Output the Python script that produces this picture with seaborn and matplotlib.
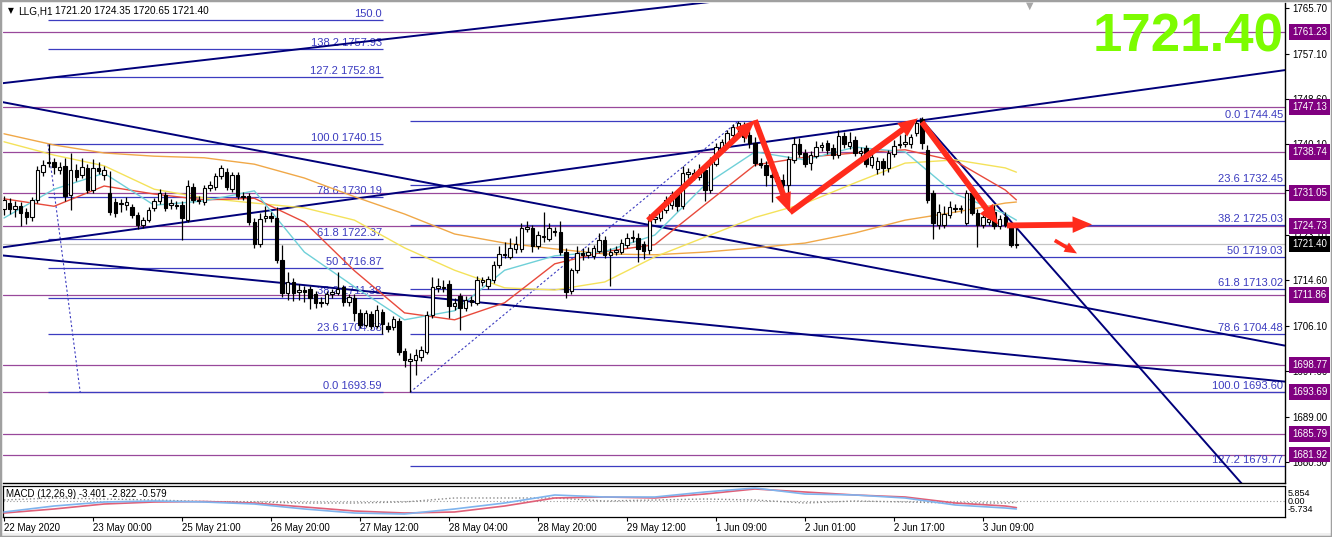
import numpy as np
import matplotlib
matplotlib.use("Agg")
import matplotlib.pyplot as plt
import seaborn as sns
from matplotlib.transforms import blended_transform_factory
from matplotlib.patches import Rectangle

# ---------------- data ----------------
opens = [1727.9, 1729.2, 1727.9, 1728.6, 1727.4, 1726.4, 1729.7, 1734.9, 1736.6, 1736.9,
         1735.3, 1736.0, 1730.6, 1735.3, 1734.4, 1735.7, 1731.6, 1735.7, 1734.3, 1731.0,
         1729.3, 1728.9, 1728.7, 1728.3, 1726.9, 1725.0, 1726.0, 1728.2, 1729.5, 1730.6,
         1728.7, 1728.7, 1728.7, 1726.0, 1732.1, 1729.7, 1729.3, 1732.0, 1732.1, 1734.2,
         1735.0, 1731.8, 1734.4, 1730.4, 1730.4, 1725.5, 1721.5, 1726.3, 1726.6, 1726.3,
         1718.4, 1712.3, 1714.2, 1712.5, 1712.7, 1712.9, 1712.0, 1710.6, 1710.4, 1712.0,
         1712.3, 1713.3, 1710.5, 1711.3, 1708.5, 1706.3, 1708.2, 1706.1, 1708.7, 1706.0,
         1705.8, 1706.9, 1701.3, 1699.5, 1699.7, 1700.2, 1701.2, 1708.1, 1713.2, 1713.4,
         1714.0, 1709.8, 1711.6, 1709.5, 1711.0, 1710.4, 1714.3, 1713.6, 1714.6, 1717.5,
         1719.6, 1719.0, 1720.4, 1720.5, 1724.3, 1724.4, 1721.0, 1722.8, 1722.4, 1723.8,
         1723.7, 1719.9, 1712.6, 1716.5, 1719.8, 1719.4, 1719.2, 1720.2, 1722.2, 1719.4,
         1720.0, 1720.0, 1721.2, 1722.5, 1722.6, 1721.4, 1720.3, 1726.1, 1726.3, 1727.8,
         1728.7, 1730.9, 1728.5, 1734.6, 1734.8, 1734.0, 1735.3, 1731.5, 1736.5, 1739.2,
         1740.0, 1741.8, 1743.1, 1743.8, 1741.8, 1740.3, 1736.6, 1736.3, 1734.4, 1734.0,
         1733.4, 1732.5, 1737.2, 1740.2, 1738.5, 1736.7, 1738.0, 1739.6, 1740.3, 1739.5,
         1738.1, 1741.7, 1739.8, 1741.0, 1738.5, 1739.5, 1736.2, 1735.5, 1737.0, 1735.6,
         1738.3, 1740.0, 1740.2, 1740.1, 1742.2, 1744.8, 1739.1, 1731.0, 1724.9, 1725.0,
         1726.9, 1728.2, 1728.0, 1725.4, 1731.0, 1727.3, 1725.0, 1725.5, 1727.5, 1724.8,
         1726.5, 1725.0, 1721.20]
highs = [1730.5, 1730.0, 1729.5, 1729.3, 1728.2, 1730.2, 1736.0, 1737.2, 1740.15, 1737.5,
         1736.8, 1737.5, 1738.5, 1736.5, 1737.5, 1736.5, 1737.3, 1736.8, 1736.0, 1735.2,
         1730.0, 1729.8, 1730.2, 1729.0, 1727.5, 1726.5, 1728.4, 1730.0, 1731.8, 1731.2,
         1729.9, 1729.5, 1729.4, 1733.4, 1732.8, 1730.5, 1732.5, 1733.3, 1734.8, 1736.2,
         1735.6, 1735.0, 1735.0, 1731.2, 1731.0, 1726.3, 1727.3, 1728.5, 1727.4, 1728.4,
         1721.2, 1716.2, 1715.0, 1714.0, 1713.6, 1713.5, 1712.6, 1711.4, 1712.6, 1713.0,
         1716.2, 1713.8, 1712.1, 1712.0, 1709.2, 1709.0, 1708.8, 1710.0, 1709.3, 1706.8,
         1708.0, 1707.6, 1702.0, 1701.0, 1701.8, 1702.3, 1708.8, 1715.3, 1715.0, 1714.6,
         1714.6, 1711.2, 1712.3, 1711.6, 1711.7, 1715.4, 1715.3, 1715.5, 1718.2, 1721.0,
         1721.8, 1722.5, 1723.0, 1725.3, 1725.8, 1725.0, 1723.9, 1727.4, 1725.4, 1724.6,
         1725.8, 1720.6, 1717.0, 1721.0, 1720.6, 1720.8, 1721.3, 1723.5, 1722.9, 1720.6,
         1721.0, 1722.3, 1723.4, 1724.0, 1723.4, 1722.0, 1727.0, 1727.2, 1728.6, 1730.4,
         1731.4, 1731.5, 1736.0, 1735.7, 1735.5, 1736.5, 1736.0, 1737.8, 1740.3, 1741.2,
         1742.8, 1744.0, 1744.45, 1744.3, 1742.6, 1741.5, 1737.5, 1737.0, 1735.2, 1735.0,
         1734.5, 1737.9, 1741.5, 1741.3, 1739.2, 1738.8, 1740.8, 1740.6, 1740.9, 1740.1,
         1742.8, 1742.4, 1742.5, 1741.6, 1739.6, 1740.0, 1738.6, 1737.7, 1737.6, 1739.0,
         1741.0, 1741.8, 1742.0, 1742.0, 1744.6, 1745.2, 1740.0, 1731.6, 1729.0, 1728.5,
         1729.5, 1729.0, 1728.8, 1731.6, 1731.8, 1727.9, 1727.2, 1726.9, 1728.8, 1726.8,
         1727.5, 1725.6, 1724.35]
lows = [1726.8, 1727.0, 1726.5, 1724.8, 1725.2, 1725.8, 1729.2, 1734.2, 1735.8, 1734.5,
        1734.6, 1729.5, 1727.8, 1733.2, 1733.8, 1731.0, 1731.0, 1734.6, 1733.5, 1726.8,
        1726.5, 1727.5, 1727.8, 1726.3, 1724.2, 1724.4, 1725.5, 1727.6, 1729.0, 1727.6,
        1728.0, 1727.9, 1722.2, 1725.5, 1729.2, 1728.9, 1728.8, 1731.4, 1731.6, 1733.6,
        1731.5, 1731.2, 1729.8, 1729.6, 1724.9, 1720.6, 1720.9, 1725.6, 1725.5, 1717.9,
        1711.5, 1711.0, 1710.8, 1711.0, 1710.5, 1709.2, 1709.4, 1709.6, 1709.9, 1711.2,
        1711.8, 1709.8, 1709.8, 1707.0, 1705.6, 1705.8, 1705.4, 1705.7, 1704.6, 1704.9,
        1705.2, 1700.6, 1698.4, 1693.59, 1696.8, 1699.4, 1700.8, 1707.6, 1712.5, 1712.4,
        1707.5, 1709.0, 1705.3, 1708.9, 1709.8, 1709.9, 1713.6, 1713.0, 1714.1, 1717.0,
        1718.8, 1718.6, 1719.8, 1720.0, 1723.6, 1720.0, 1720.5, 1721.8, 1721.9, 1722.9,
        1719.3, 1711.3, 1712.0, 1716.0, 1718.5, 1718.8, 1718.6, 1719.8, 1718.8, 1713.6,
        1719.3, 1719.5, 1720.7, 1721.8, 1718.0, 1718.6, 1719.6, 1725.3, 1725.7, 1727.2,
        1728.0, 1727.6, 1728.0, 1733.8, 1733.4, 1733.5, 1729.5, 1731.0, 1736.0, 1738.6,
        1739.4, 1741.2, 1742.5, 1740.5, 1739.5, 1736.0, 1735.6, 1732.3, 1729.3, 1732.6,
        1731.5, 1727.8, 1736.6, 1737.8, 1735.9, 1735.4, 1737.5, 1738.9, 1738.4, 1737.4,
        1737.6, 1739.5, 1739.2, 1737.9, 1737.8, 1735.8, 1735.6, 1734.6, 1734.3, 1735.0,
        1737.7, 1739.4, 1739.6, 1739.5, 1741.6, 1739.3, 1729.2, 1722.4, 1724.3, 1724.5,
        1726.3, 1727.4, 1727.3, 1725.0, 1726.8, 1720.8, 1724.5, 1725.0, 1724.3, 1724.3,
        1724.6, 1720.9, 1720.65]
closes = [1729.6, 1727.9, 1728.6, 1727.3, 1726.4, 1729.7, 1735.3, 1736.3, 1736.9, 1735.9,
          1735.9, 1730.5, 1735.3, 1734.0, 1735.9, 1731.6, 1735.7, 1735.2, 1735.3, 1727.4,
          1727.2, 1729.1, 1729.3, 1726.9, 1725.0, 1725.9, 1727.8, 1729.5, 1731.0, 1728.2,
          1729.2, 1728.5, 1726.3, 1732.3, 1729.7, 1729.5, 1732.0, 1732.5, 1734.2, 1735.6,
          1732.1, 1734.4, 1730.4, 1730.2, 1725.5, 1721.4, 1726.2, 1726.6, 1726.3, 1718.4,
          1712.3, 1714.2, 1712.3, 1712.8, 1712.5, 1711.3, 1710.3, 1710.4, 1712.0, 1712.4,
          1712.9, 1710.5, 1711.5, 1708.5, 1706.3, 1708.4, 1706.0, 1709.0, 1706.4, 1705.5,
          1707.3, 1701.2, 1699.6, 1699.8, 1700.6, 1701.5, 1708.1, 1713.4, 1713.5, 1713.1,
          1709.8, 1710.3, 1709.5, 1711.0, 1710.5, 1714.7, 1714.7, 1714.9, 1717.5, 1719.6,
          1719.4, 1720.7, 1721.4, 1724.4, 1724.6, 1721.0, 1723.2, 1723.0, 1724.4, 1723.6,
          1719.9, 1712.5, 1716.5, 1719.8, 1719.3, 1719.9, 1720.6, 1722.2, 1719.4, 1719.9,
          1720.3, 1721.6, 1722.6, 1722.7, 1720.4, 1720.2, 1726.3, 1726.5, 1727.8, 1729.7,
          1730.6, 1728.5, 1734.7, 1734.9, 1734.2, 1735.5, 1731.5, 1737.2, 1739.6, 1740.5,
          1742.2, 1743.4, 1744.2, 1741.5, 1740.3, 1736.6, 1736.3, 1734.4, 1734.0, 1733.2,
          1732.5, 1737.4, 1740.2, 1738.4, 1736.5, 1738.1, 1739.7, 1740.0, 1739.0, 1738.1,
          1741.7, 1740.1, 1740.6, 1738.5, 1738.8, 1736.5, 1737.8, 1737.0, 1735.6, 1738.5,
          1739.8, 1740.2, 1740.6, 1741.5, 1744.1, 1740.4, 1729.7, 1725.4, 1727.4, 1727.0,
          1728.4, 1728.0, 1728.1, 1731.0, 1727.3, 1725.0, 1726.5, 1726.2, 1724.8, 1726.2,
          1725.0, 1721.2, 1721.40]

# moving averages, sampled every 9 bars
ma_idx = [0, 9, 18, 27, 36, 45, 54, 63, 72, 81, 90, 99, 108, 117, 126, 135, 144, 153, 162, 171, 180, 182]
ma_fast = [1726.3, 1731.7, 1734.7, 1728.7, 1729.5, 1731.4, 1719.9, 1713.4, 1707.2, 1708.9, 1716.5,
           1719.2, 1720.0, 1723.1, 1732.5, 1738.7, 1737.2, 1739.6, 1738.7, 1730.8, 1727.1, 1725.9]
ma_mid = [1729.9, 1728.5, 1732.3, 1730.8, 1729.7, 1730.0, 1725.55, 1716.4, 1708.5, 1707.2, 1710.4,
          1717.7, 1720.0, 1721.3, 1728.8, 1736.25, 1737.7, 1738.5, 1739.1, 1737.0, 1731.55, 1729.7]
ma_slow = [1740.6, 1738.1, 1736.1, 1731.7, 1730.05, 1729.1, 1728.2, 1725.9, 1720.7, 1716.5, 1713.2,
           1712.8, 1714.3, 1719.0, 1722.7, 1726.4, 1729.05, 1732.9, 1736.6, 1737.2, 1735.7, 1734.9]
ma_long = [1742.1, 1740.0, 1738.5, 1737.9, 1737.6, 1736.4, 1733.8, 1730.3, 1727.05, 1723.3, 1721.6,
           1720.5, 1719.55, 1719.4, 1719.9, 1720.7, 1721.6, 1723.5, 1725.9, 1727.4, 1729.1, 1729.3]

macd_main = [-4.68, -2.13, -0.43, 0.0, -0.43, -1.28, -3.40, -5.11, -5.53, -3.40, -0.85,
             2.55, 1.70, 1.70, 3.83, 5.53, 2.98, 2.55, 1.28, -1.70, -2.98, -3.40]
macd_signal = [-5.11, -3.40, -1.28, -0.43, -0.21, -0.85, -2.55, -4.26, -5.11, -4.68, -2.13,
               1.28, 1.70, 1.28, 2.98, 5.11, 3.83, 2.55, 1.70, -0.85, -2.13, -2.82]
macd_hist = [0.43, 1.27, 0.85, 0.43, -0.22, -0.43, -0.85, -0.85, -0.42, 1.28, 1.28,
             1.27, 0.0, 0.42, 0.85, 0.42, -0.85, 0.0, -0.42, -0.85, -0.85, -0.58]

purple_levels = [1761.23, 1747.13, 1738.74, 1731.05, 1724.73, 1711.86, 1698.77, 1693.69, 1685.79, 1681.92]
last_price = 1721.40

fib1_pct = ["150.0", "138.2", "127.2", "100.0", "78.6", "61.8", "50", "38.2", "23.6", "0.0"]
fib1_price = [1763.43, 1757.93, 1752.81, 1740.15, 1730.19, 1722.37, 1716.87, 1711.38, 1704.58, 1693.59]
fib1_show_price = [False, True, True, True, True, True, True, True, True, True]
fib2_pct = ["0.0", "23.6", "38.2", "50", "61.8", "78.6", "100.0", "127.2", "138.2"]
fib2_price = [1744.45, 1732.45, 1725.03, 1719.03, 1713.02, 1704.48, 1693.60, 1679.77, 1674.17]

# trend lines (bar index, price)
tl_x0 = [-0.2, -0.2, -0.2, -0.2, 164.7]
tl_p0 = [1751.6, 1720.8, 1748.03, 1719.27, 1745.0]
tl_x1 = [140.0, 230.3, 230.3, 230.3, 224.0]
tl_p1 = [1768.4, 1754.05, 1702.35, 1695.6, 1674.7]

# red arrows
arr_x0 = [115.8, 135.0, 141.3, 165.0, 180.3, 188.9]
arr_p0 = [1725.85, 1744.65, 1727.35, 1744.3, 1724.9, 1722.1]
arr_x1 = [135.0, 141.3, 164.3, 178.7, 195.6, 192.9]
arr_p1 = [1744.65, 1727.35, 1745.0, 1725.1, 1725.1, 1719.65]
arr_size = [14, 14, 14, 14, 14, 9]

ytick_vals = [1765.70, 1757.10, 1748.60, 1740.10, 1731.60, 1723.10, 1714.60, 1706.10, 1697.60, 1689.00, 1680.50]
xtick_bars = [0, 16, 32, 48, 64, 80, 96, 112, 128, 144, 160, 176]
xtick_labels = ["22 May 2020", "23 May 00:00", "25 May 21:00", "26 May 20:00", "27 May 12:00",
                "28 May 04:00", "28 May 20:00", "29 May 12:00", "1 Jun 09:00", "2 Jun 01:00",
                "2 Jun 17:00", "3 Jun 09:00"]

# ---------------- figure ----------------
sns.set_style("white")
plt.rcParams["font.family"] = ["Liberation Sans", "DejaVu Sans"]

W, H = 1332, 537
fig = plt.figure(figsize=(W / 100, H / 100), dpi=100)
fig.patches.append(Rectangle((0, 0), 1, 4 / H, transform=fig.transFigure, fc="#f0f0f0", ec="none", zorder=-5))
L, R = 3, 1285
ax = fig.add_axes([L / W, 1 - 483 / H, (R - L) / W, 480 / H])
axm = fig.add_axes([L / W, 1 - 517 / H, (R - L) / W, 31 / H])

XMIN, XMAX = -0.18, 230.29
ax.set_xlim(XMIN, XMAX)
ax.set_ylim(1676.58, 1766.64)
axm.set_xlim(XMIN, XMAX)
axm.set_ylim(-6.81, 6.38)

PURPLE = "#98489b"
FIB = "#3c3cc0"
NAVY = "#00007a"

# horizontal levels
for lv in purple_levels:
    ax.axhline(lv, color=PURPLE, lw=0.9, zorder=1)
ax.axhline(last_price, color="#c4c4c4", lw=0.9, zorder=1)

# fib set 1
f1x0, f1x1 = 7.9, 68.1
ax.hlines(fib1_price, f1x0, f1x1, color=FIB, lw=0.9, zorder=1)
for pct, pr, show in zip(fib1_pct, fib1_price, fib1_show_price):
    txt = f"{pct} {pr:.2f}" if show else pct
    ax.annotate(txt, xy=(f1x1 - 0.2, pr), xytext=(0, 0.8), textcoords="offset points",
                ha="right", va="bottom", fontsize=8, color=FIB, zorder=2, annotation_clip=False)
ax.plot([7.9, 13.7], [1740.15, 1693.59], color=FIB, lw=0.8, ls=(0, (2, 2)), zorder=1)

# fib set 2
f2x0 = 73.0
ax.hlines(fib2_price, f2x0, XMAX, color=FIB, lw=0.9, zorder=1)
for pct, pr in zip(fib2_pct, fib2_price):
    ax.annotate(f"{pct} {pr:.2f}", xy=(229.9, pr), xytext=(0, 0.8), textcoords="offset points",
                ha="right", va="bottom", fontsize=8, color=FIB, zorder=2)
ax.plot([73.0, 132.0], [1693.60, 1744.45], color=FIB, lw=0.8, ls=(0, (2, 2)), zorder=1)

# trend lines
for x0, p0, x1, p1 in zip(tl_x0, tl_p0, tl_x1, tl_p1):
    ax.plot([x0, x1], [p0, p1], color=NAVY, lw=1.4, zorder=2, solid_capstyle="butt")

# moving averages
for vals, col in [(ma_long, "#f0a848"), (ma_slow, "#f4e25a"), (ma_mid, "#e84a3c"), (ma_fast, "#6fd0d8")]:
    sns.lineplot(x=ma_idx, y=vals, ax=ax, color=col, linewidth=1.0, zorder=2, legend=False)

# candles
o = np.array(opens); h = np.array(highs); lo = np.array(lows); c = np.array(closes)
idx = np.arange(len(c))
up = c >= o
ax.vlines(idx, lo, h, color="black", lw=0.9, zorder=3)
ax.bar(idx[up], (c - o)[up], bottom=o[up], width=0.62, color="white", edgecolor="black", linewidth=0.8, zorder=4)
ax.bar(idx[~up], (o - c)[~up], bottom=c[~up], width=0.62, color="black", edgecolor="black", linewidth=0.8, zorder=4)

# red arrows
for x0, p0, x1, p1, ms in zip(arr_x0, arr_p0, arr_x1, arr_p1, arr_size):
    ax.annotate("", xy=(x1, p1), xytext=(x0, p0),
                arrowprops=dict(arrowstyle="simple,head_length=1.0,head_width=0.85,tail_width=0.3",
                                color="#ff2b1c", mutation_scale=ms, shrinkA=0, shrinkB=0, lw=0),
                zorder=6)

# axes styling
ax.set_xticks([])
ax.yaxis.tick_right()
ax.set_yticks(ytick_vals)
ax.set_yticklabels([f"{v:.2f}" for v in ytick_vals])
ax.tick_params(axis="y", direction="out", length=3, width=0.8, labelsize=7, pad=2,
               colors="black", right=True, left=False, labelright=True, labelleft=False)
for s in ["top", "left"]:
    ax.spines[s].set_visible(False)
for s in ["right", "bottom"]:
    ax.spines[s].set_color("black"); ax.spines[s].set_linewidth(1.0)

tr = blended_transform_factory(ax.transAxes, ax.transData)
xoff = 1 + 7 / (R - L)
for lv in purple_levels:
    ax.text(xoff, lv, f"{lv:.2f}", transform=tr, ha="left", va="center", fontsize=7, color="white",
            bbox=dict(boxstyle="square,pad=0.3", fc="#800080", ec="none"), clip_on=False, zorder=10)
ax.text(xoff, last_price, f"{last_price:.2f}", transform=tr, ha="left", va="center", fontsize=7,
        color="white", bbox=dict(boxstyle="square,pad=0.3", fc="black", ec="none"), clip_on=False, zorder=11)

# MACD panel
axm.axhline(0, color="#9a9a9a", lw=0.8, ls=(0, (1, 2)), zorder=1)
sns.lineplot(x=ma_idx, y=macd_hist, ax=axm, color="#8a8a8a", linewidth=1.0, linestyle=":", zorder=2, legend=False)
sns.lineplot(x=ma_idx, y=macd_signal, ax=axm, color="#e06078", linewidth=1.2, zorder=3, legend=False)
sns.lineplot(x=ma_idx, y=macd_main, ax=axm, color="#7fb4ee", linewidth=1.2, zorder=4, legend=False)
axm.set_yticks([])
axm.set_xticks(xtick_bars)
axm.set_xticklabels(xtick_labels)
for lab in axm.get_xticklabels():
    lab.set_ha("left")
axm.tick_params(axis="x", direction="out", length=3, width=0.8, labelsize=7, pad=1.0, colors="black", bottom=True)
for s in axm.spines.values():
    s.set_color("black"); s.set_linewidth(0.9)
axm.text(0.002, 0.74, "MACD (12,26,9) -3.401 -2.822 -0.579", transform=axm.transAxes,
         ha="left", va="center", fontsize=7, color="black")
for txt, yp in [("5.854", 493.5), ("0.00", 501.5), ("-5.734", 509.5)]:
    fig.text(1288 / W, 1 - yp / H, txt, ha="left", va="center", fontsize=6.5, color="black")

# header & decorations
fig.text(8 / W, 1 - 11 / H, "▼", fontsize=5.5, ha="left", va="center", color="black",
         family=["DejaVu Sans"])
fig.text(18 / W, 1 - 11 / H, "LLG,H1", fontsize=7.2, ha="left", va="center", color="black")
fig.text(55 / W, 1 - 11 / H, "1721.20 1724.35 1720.65 1721.40", fontsize=7.2, ha="left", va="center", color="black")
fig.text(1030 / W, 1 - 6 / H, "▼", fontsize=7, ha="center", va="center", color="#a8a8a8",
         family=["DejaVu Sans"])
fig.text(1284 / W, 1 - 37 / H, "1721.40", fontsize=38, fontweight="bold", ha="right", va="center",
         color="#7cfc00", family=["Liberation Sans", "DejaVu Sans"])

fig.patches.append(Rectangle((0, 0), 1, 1, transform=fig.transFigure, fill=False, ec="#a0a0a0", lw=2.5, zorder=20))

fig.savefig("out.png", dpi=100)
